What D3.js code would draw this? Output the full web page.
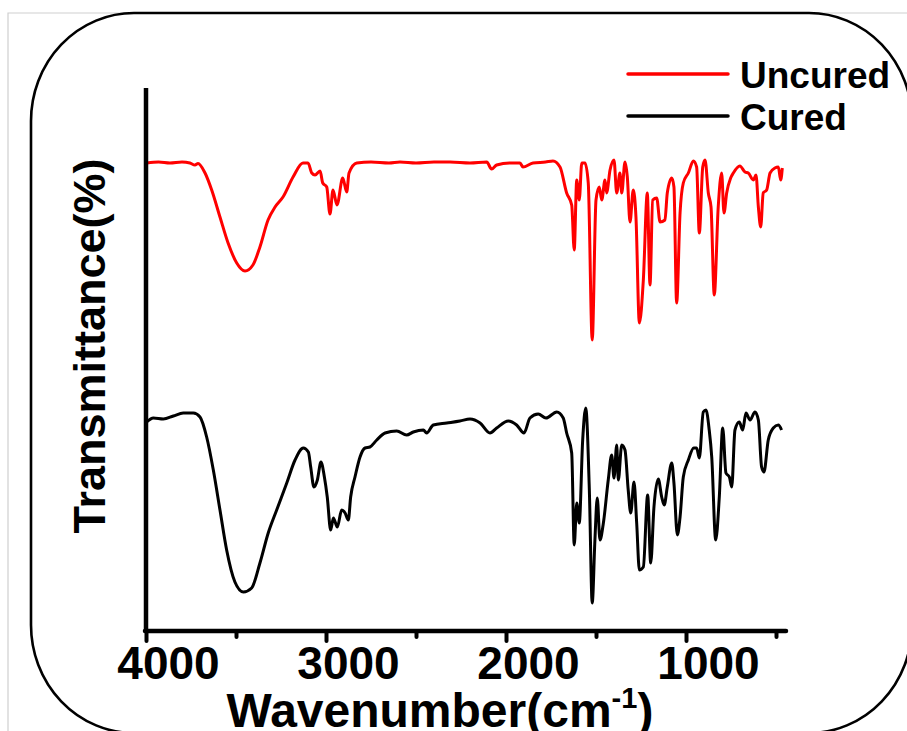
<!DOCTYPE html>
<html>
<head>
<meta charset="utf-8">
<script src="https://cdn.jsdelivr.net/npm/d3@7"></script>
<style>
html,body{margin:0;padding:0;background:#fff;}
svg{display:block;}
text{font-family:"Liberation Sans",Arial,sans-serif;font-weight:bold;fill:#000;}
</style>
</head>
<body>
<svg id="chart" width="907" height="731"></svg>
<script>
// ---- Data (transmittance in arbitrary units) ----
const seriesNames = ["Uncured", "Cured"];
const seriesColors = ["#ff0000", "#000000"];

const uncuredWavenumber = [3996,3930,3867,3800,3756,3728,3711,3672,3635,3589,3544,3496,3450,3406,3367,3322,3283,3239,3183,3128,3100,3079,3061,3033,3018,2996,2978,2961,2939,2907,2885,2872,2829,2750,2650,2589,2500,2400,2311,2200,2107,2080,2052,1980,1922,1906,1850,1780,1739,1700,1663,1635,1621,1607,1593,1579,1561,1543,1521,1500,1482,1468,1450,1441,1422,1400,1385,1367,1357,1339,1326,1311,1293,1278,1259,1237,1215,1200,1185,1163,1144,1117,1104,1079,1067,1052,1033,1015,987,959,941,926,907,894,876,861,843,821,802,789,774,752,737,701,672,654,626,611,598,585,571,552,533,506,487,474,465];
const uncuredT = [467,468,467,468,467,465,466.5,457,440,413,387,367,359,365,383,410,423,433,453,467,467,457,455,459,447,443,416,440,425,452,438,457,467,468,467,468,467,468,468,467,468,461,465,467,467,463,467,468,469,463,437,425,380,450,430,467,467,447,290,430,443,430,450,437,460,470,437,457,437,468,453,408,440,413,307,350,437,345,430,432,408,410,437,452,443,327,417,447,457,469,463,397,463,470,437,423,335,423,457,417,437,452,457,464,458,457,450,455,423,403,437,440,457,462,463,450,462];

const curedWavenumber = [3996,3959,3904,3848,3793,3737,3700,3663,3626,3589,3552,3506,3459,3413,3367,3321,3274,3218,3172,3126,3098,3085,3067,3048,3028,3009,2993,2974,2959,2937,2913,2894,2876,2863,2839,2811,2783,2756,2718,2672,2607,2552,2515,2459,2441,2404,2329,2256,2200,2144,2089,2052,1987,1941,1900,1867,1821,1778,1718,1682,1663,1635,1621,1607,1593,1574,1557,1537,1521,1506,1493,1478,1459,1432,1413,1400,1385,1376,1357,1339,1321,1307,1289,1274,1259,1237,1213,1196,1178,1154,1135,1121,1104,1079,1067,1048,1033,1015,987,957,941,926,904,889,871,857,835,815,796,778,759,746,728,704,685,667,644,617,598,580,567,543,515,487,469];
const curedT = [208,212,211,214,217,217,213,193,160,120,80,48,38,42,67,97,120,147,170,182,178,163,143,150,168,153,133,100,112,103,120,117,110,133,153,173,182,183,190,197,199,195,198,200,197,205,207,209,211,207,197,202,209,205,197,212,216,212,218,212,197,177,85,127,107,190,222,140,27,90,132,90,107,150,175,152,185,150,185,180,140,117,148,107,60,63,135,67,123,151,133,125,143,167,147,95,113,153,170,182,182,172,218,220,200,173,90,133,202,157,153,143,200,208,200,217,210,218,210,163,158,190,202,205,200];

const xTickValues = [4000,3500,3000,2500,2000,1500,1000,500];
const xTickLabels = ["4000","","3000","","2000","","1000",""];
const xDomain = [4000, 450];
const yDomain = [0, 542];

// ---- Layout ----
const svg = d3.select("#chart");
const plot = {left:146, right:785, top:88, bottom:630};

// outer light frame
svg.append("path").attr("d","M8,731 L8,13 L907,13")
  .attr("fill","none").attr("stroke","#cfcfcf").attr("stroke-width",1.2);

// rounded border
svg.append("rect").attr("x",31).attr("y",13).attr("width",881).attr("height",720)
  .attr("rx",103).attr("ry",108)
  .attr("fill","none").attr("stroke","#000").attr("stroke-width",2.6);

const x = d3.scaleLinear().domain(xDomain).range([plot.left, plot.right]);
const y = d3.scaleLinear().domain(yDomain).range([plot.bottom, plot.top]);

const line = d3.line()
  .x(d => x(d[0])).y(d => y(d[1]))
  .curve(d3.curveMonotoneX);

const series = [
  d3.zip(uncuredWavenumber, uncuredT),
  d3.zip(curedWavenumber, curedT)
];

series.forEach((s, i) => {
  svg.append("path").datum(s)
    .attr("d", line)
    .attr("fill","none")
    .attr("stroke", seriesColors[i])
    .attr("stroke-width", 3)
    .attr("stroke-linejoin","round");
});

// x axis
const xAxis = d3.axisBottom(x)
  .tickValues(xTickValues)
  .tickFormat((d,i) => xTickLabels[i])
  .tickSizeOuter(0);

const gx = svg.append("g").attr("transform",`translate(0,${plot.bottom+1})`).call(xAxis);
gx.select(".domain").attr("stroke","#000").attr("stroke-width",4.5).attr("stroke-linecap","round")
  .attr("d",`M${plot.left-1},0H${plot.right+1}`);
gx.selectAll(".tick line")
  .attr("stroke","#000").attr("stroke-width",4).attr("stroke-linecap","round")
  .attr("y2",(d,i) => xTickLabels[i] ? 10 : 6);
gx.selectAll(".tick text")
  .attr("y",48).attr("dy",0).attr("dx",22)
  .style("font-size","46px").style("font-family","'Liberation Sans',Arial,sans-serif")
  .style("font-weight","bold").attr("fill","#000");

// y axis (line only, no ticks)
svg.append("line").attr("x1",plot.left).attr("x2",plot.left)
  .attr("y1",plot.top).attr("y2",plot.bottom+1)
  .attr("stroke","#000").attr("stroke-width",4.5);

// axis titles
const xt = svg.append("text").attr("x",440).attr("y",727)
  .attr("text-anchor","middle").style("font-size","48px");
xt.append("tspan").text("Wavenumber(cm");
xt.append("tspan").text("-1").attr("dy",-19).style("font-size","29px");
xt.append("tspan").text(")").attr("dy",19);

svg.append("text")
  .attr("transform","translate(105,346) rotate(-90)")
  .attr("text-anchor","middle").style("font-size","45px")
  .text("Transmittance(%)");

// legend
const legY = [74, 116];
seriesNames.forEach((name,i) => {
  svg.append("line").attr("x1",628).attr("x2",728).attr("y1",legY[i]).attr("y2",legY[i])
    .attr("stroke",seriesColors[i]).attr("stroke-width",3.5).attr("stroke-linecap","round");
  svg.append("text").attr("x",740).attr("y",legY[i]+14)
    .style("font-size","37px").text(name);
});
</script>
</body>
</html>
